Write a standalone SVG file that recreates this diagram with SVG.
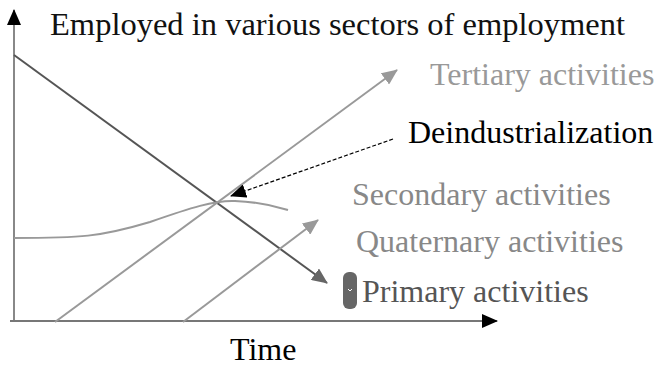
<svg xmlns="http://www.w3.org/2000/svg" width="661" height="368" viewBox="0 0 661 368">
<defs>
<style>
text{font-family:"Liberation Serif","Times New Roman",serif;font-size:32px}
.ln{fill:none;stroke-width:2}
</style>
<marker id="ag" markerWidth="16" markerHeight="14" refX="15" refY="7" orient="auto" markerUnits="userSpaceOnUse" viewBox="0 0 16 14"><path d="M0,0 L16,7 L0,14 z" fill="#999"/></marker>
<marker id="ad" markerWidth="16" markerHeight="14" refX="15" refY="7" orient="auto" markerUnits="userSpaceOnUse" viewBox="0 0 16 14"><path d="M0,0 L16,7 L0,14 z" fill="#666"/></marker>
<marker id="ak" markerWidth="16" markerHeight="14" refX="15" refY="7" orient="auto" markerUnits="userSpaceOnUse" viewBox="0 0 16 14"><path d="M0,0 L16,7 L0,14 z" fill="#000"/></marker>
</defs>
<rect width="661" height="368" fill="#fff"/>
<g id="connectors">
<path class="ln" d="M14,322 V10" stroke="#888" marker-end="url(#ak)"/>
<path class="ln" d="M10,321 H497" stroke="#777" marker-end="url(#ak)"/>
<path class="ln" d="M14,55 L327,283" stroke="#555" marker-end="url(#ad)"/>
<path class="ln" d="M55,322 L397,70" stroke="#999" marker-end="url(#ag)"/>
<path class="ln" d="M183,322 L318,220" stroke="#999" marker-end="url(#ag)"/>
<path class="ln" d="M14,238 C80,238 100,237 150,222 C190,208 215,200 235,201 C260,202 275,206 288,210" stroke="#999"/>
<path d="M393,139 L231,196" fill="none" stroke="#000" stroke-width="1.2" stroke-dasharray="4,2" marker-end="url(#ak)"/>
</g>
<g id="title"><text x="50" y="35" fill="#111" textLength="575" lengthAdjust="spacingAndGlyphs">Employed in various sectors of employment</text></g>
<g id="tertiary"><text x="430" y="85" fill="#999">Tertiary activities</text></g>
<g id="deindustrialization"><text x="408" y="143" fill="#000">Deindustrialization</text></g>
<g id="secondary"><text x="352" y="205" fill="#888">Secondary activities</text></g>
<g id="quaternary"><text x="356" y="252" fill="#888">Quaternary activities</text></g>
<g id="primary"><rect x="343" y="272" width="14" height="37" rx="6" fill="#666"/><path d="M348,289 L350,291 L352,289" fill="none" stroke="#fff" stroke-width="1"/><text x="362" y="302" fill="#555">Primary activities</text></g>
<g id="time"><text x="230" y="360" fill="#000" font-size="31">Time</text></g>
</svg>
